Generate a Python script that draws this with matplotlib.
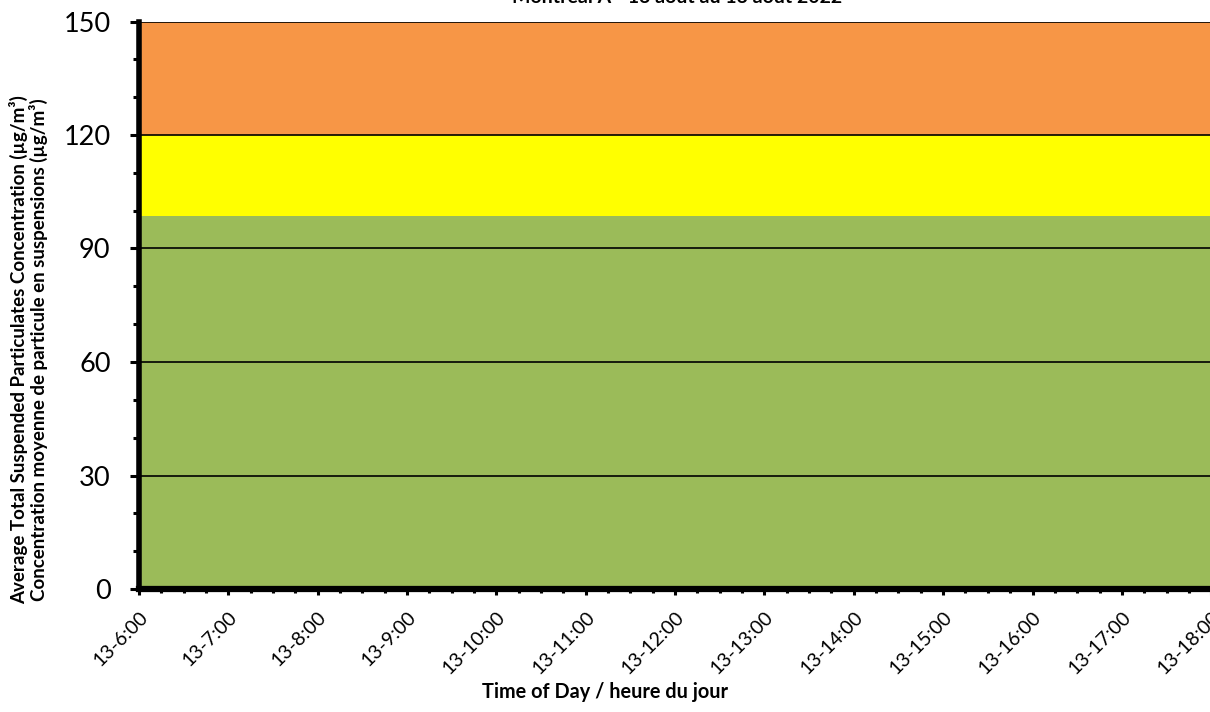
import matplotlib
matplotlib.use("Agg")
import matplotlib.pyplot as plt
from matplotlib.ticker import MultipleLocator
import numpy as np

plt.rcParams['font.family'] = ['Lato', 'DejaVu Sans']

# Data
hours = [6, 7, 8, 9, 10, 11, 12, 13, 14, 15, 16, 17, 18]
tick_labels = ["13-6:00", "13-7:00", "13-8:00", "13-9:00", "13-10:00", "13-11:00",
               "13-12:00", "13-13:00", "13-14:00", "13-15:00", "13-16:00", "13-17:00",
               "13-18:00"]
band_edges = [0, 98.5, 120, 150]
band_colors = ["#9BBB59", "#FFFF00", "#F79646"]
y_ticks = [0, 30, 60, 90, 120, 150]

title = "Montréal A - 13 août au 13 août 2022"
xlabel = "Time of Day / heure du jour"
ylabel = ("Average Total Suspended Particulates Concentration (µg/m³)\n"
          "Concentration moyenne de particule en suspensions (µg/m³)")

W, H = 1210, 712
fig = plt.figure(figsize=(W/100, H/100), dpi=100)
ax = fig.add_axes([139/W, 1-589/H, 1-139/W + 0.001, (589-21.5)/H])

x = np.array(hours, dtype=float)
for lo, hi, c in zip(band_edges[:-1], band_edges[1:], band_colors):
    ax.fill_between(x, lo, hi, color=c, linewidth=0, zorder=1)

for yv in y_ticks[1:]:
    ax.axhline(yv, color="black", linewidth=1.2, zorder=2)

ax.set_xlim(hours[0], hours[-1])
ax.set_ylim(0, 150)
ax.set_xticks(hours)
ax.set_xticklabels(tick_labels, rotation=45, ha='right', rotation_mode='anchor', fontsize=14)
ax.xaxis.set_minor_locator(MultipleLocator(0.25))
ax.set_yticks(y_ticks)
ax.set_yticklabels([str(v) for v in y_ticks], fontsize=19.5)
ax.yaxis.set_minor_locator(MultipleLocator(10))

ax.tick_params(axis='y', which='major', direction='out', length=6.5, width=2.2, color='black', pad=14)
ax.tick_params(axis='y', which='minor', direction='out', length=4.5, width=2.2, color='black')
ax.tick_params(axis='x', which='major', direction='out', length=4, width=2.2, color='black', pad=10)
ax.tick_params(axis='x', which='minor', direction='out', length=3, width=2.2, color='black')

for s in ['top', 'right']:
    ax.spines[s].set_visible(False)
ax.spines['left'].set_linewidth(4)
ax.spines['bottom'].set_linewidth(4.5)
ax.spines['left'].set_zorder(5)
ax.spines['bottom'].set_zorder(5)

fig.text(605/W, 1 - 698/H, xlabel, ha='center', va='baseline', fontsize=14.3, fontweight='bold')
fig.text(29/W, 1 - 350/H, ylabel, ha='center', va='center', rotation=90,
         fontsize=13.5, fontweight='bold', linespacing=1.05, multialignment='center')

fig.text(677/W, 1 - 3/H, title, ha='center', va='baseline', fontsize=14, fontweight='bold')

fig.savefig("out.png", dpi=100)
